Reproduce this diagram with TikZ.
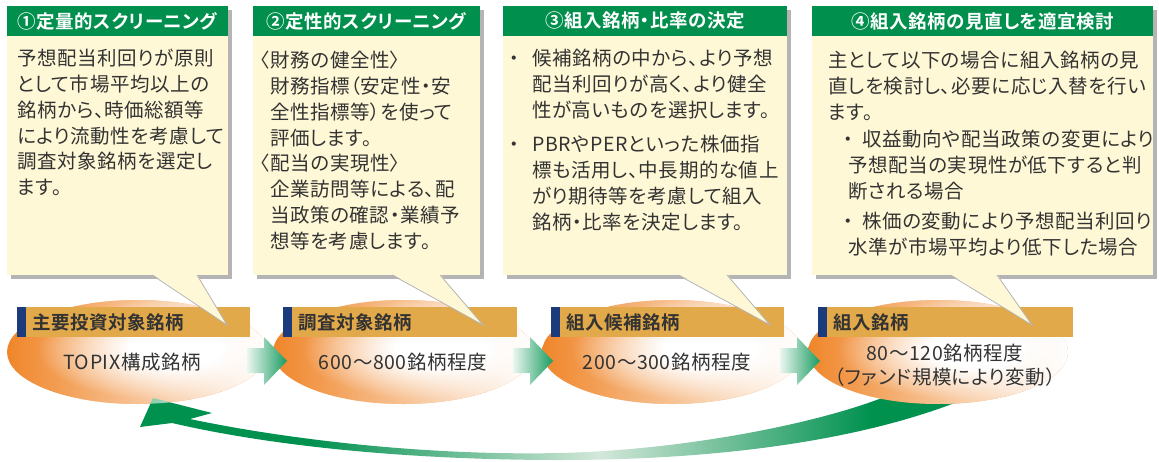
\documentclass[tikz,border=0pt]{standalone}
\usepackage{fontspec}
\setmainfont{Noto Sans CJK JP}[BoldFont={Noto Sans CJK JP Bold},RawFeature=+palt,LetterSpace=3]
\usetikzlibrary{fadings}

\definecolor{hdgreen}{HTML}{008F4C}
\definecolor{memo}{HTML}{FFF8D6}
\definecolor{memoshadow}{HTML}{B4B4B4}
\definecolor{bargold}{HTML}{E1A94A}
\definecolor{barnavy}{HTML}{1C3B7C}
\definecolor{ovorange}{HTML}{F0862A}
\definecolor{arrgreen}{HTML}{00914F}
\definecolor{arrpale}{HTML}{D4E7DA}
\definecolor{txtgray}{HTML}{333333}

% orange oval, white spot shifted right
\pgfdeclareradialshading{ovalglow}{\pgfpoint{9bp}{2bp}}{%
  color(0bp)=(white); color(9bp)=(white); color(24bp)=(ovorange); color(50bp)=(ovorange)}
% green loop arrow, pale in the middle
\pgfdeclarehorizontalshading{loopband}{100bp}{%
  color(0bp)=(arrgreen); color(35bp)=(arrgreen); color(52bp)=(arrpale); color(68bp)=(arrgreen); color(100bp)=(arrgreen)}
\tikzfading[name=faderight, left color=transparent!100, middle color=transparent!100, right color=transparent!0]

\begin{document}
\begin{tikzpicture}[
    x=1pt, y=-1pt,
    % Styles
    headtext/.style={text=white, font=\bfseries\fontsize{18.5}{20}\selectfont, inner sep=0pt},
    memotext/.style={text=txtgray, font=\fontsize{19.5}{25.8}\selectfont, align=left, anchor=north west, inner sep=0pt},
    barlabel/.style={text=txtgray, font=\bfseries\fontsize{18.5}{20}\selectfont, anchor=west, inner sep=0pt},
    ovaltext/.style={text=txtgray, font=\fontsize{19.5}{24}\selectfont, align=center, inner sep=0pt},
    stepgo/.style={left color=arrgreen!8!white, right color=arrgreen!90!white}
]
  \useasboundingbox (0,0) rectangle (1159,461);

  % Oval 1 (under the loop arrow head)
  \shade[shading=ovalglow] (137,352) ellipse (130pt and 52pt);

  % Loop arrow back to the start
  \shade[shading=loopband]
    (905,388) .. controls (840,420) and (690,450) .. (560,453)
    .. controls (420,456) and (280,438) .. (190,419)
    -- (212,413) -- (153,398) -- (140,427) -- (172,423)
    .. controls (280,448) and (420,460) .. (560,460)
    .. controls (720,460) and (880,440) .. (990,388) -- cycle;

  % Ovals 2-4
  \foreach \cx in {403,672,938} {
    \shade[shading=ovalglow] (\cx,352) ellipse (130pt and 52pt);
  }
  \foreach \cx in {137,403,672,938} {
    \fill[white, path fading=faderight] (\cx,352) ellipse (130pt and 52pt);
  }

  % Step arrows between ovals
  \foreach \x in {247,513,780} {
    \shade[stepgo] (\x,348) -- (\x+17,348) -- (\x+17,337) -- (\x+40,361)
      -- (\x+17,385) -- (\x+17,373) -- (\x,373) -- cycle;
  }

  % Stage bars
  \foreach \xl/\xr/\lbl [count=\i] in {17/250/主要投資対象銘柄, 283/517/調査対象銘柄,
                                       551/784/組入候補銘柄, 818/1073/組入銘柄} {
    \fill[bargold] (\xl,307) rectangle (\xr,337);
    \fill[barnavy] (\xl,307) rectangle (\xl+9,337);
    \node[barlabel] (bar\i) at (\xl+15,322) {\lbl};
  }

  % Memo boxes with callout tails
  \foreach \xl/\xr/\ta/\tb/\tip [count=\i] in {7/228/152/197/227, 253/480/392/440/483,
                                              503/787/678/727/770, 812/1153/950/997/1032} {
    \fill[memoshadow] (\xl+4,10) rectangle (\xr+4,279);
    \fill[memo] (\xl,6) rectangle (\xr,275);
    \fill[hdgreen] (\xl,6) rectangle (\xr,36);
    \fill[memo] (\ta,274) -- (\tip,325) -- (\tb,274) -- cycle;
    \draw[memoshadow, line width=0.8pt] (\ta,275) -- (\tip,325) -- (\tb,275);
    \coordinate (head\i) at ({(\xl+\xr)/2},21);
  }

  % Headers
  \node[headtext] (title1) at (head1) {①定量的スクリーニング};
  \node[headtext] (title2) at (head2) {②定性的スクリーニング};
  \node[headtext] (title3) at (head3) {③組入銘柄・比率の決定};
  \node[headtext] (title4) at (head4) {④組入銘柄の見直しを適宜検討};

  % Memo texts
  \node[memotext] (memo1) at (17,49) {予想配当利回りが原則\\として市場平均以上の\\銘柄から、時価総額等\\により流動性を考慮して\\調査対象銘柄を選定し\\ます。};
  \node[memotext] (memo2) at (260,51) {〈財務の健全性〉\\\hspace*{10pt}財務指標（安定性・安\\\hspace*{10pt}全性指標等）を使って\\\hspace*{10pt}評価します。\\〈配当の実現性〉\\\hspace*{10pt}企業訪問等による、配\\\hspace*{10pt}当政策の確認・業績予\\\hspace*{10pt}想等を考慮します。};
  \node[memotext] (memo3) at (509,49) {\makebox[23pt][l]{・}候補銘柄の中から、より予想\\\hspace*{23pt}配当利回りが高く、より健全\\\hspace*{23pt}性が高いものを選択します。\\[9pt]\makebox[23pt][l]{・}PBRやPERといった株価指\\\hspace*{23pt}標も活用し、中長期的な値上\\\hspace*{23pt}がり期待等を考慮して組入\\\hspace*{23pt}銘柄・比率を決定します。};
  \node[memotext] (memo4) at (828,51) {主として以下の場合に組入銘柄の見\\直しを検討し、必要に応じ入替を行い\\ます。\\[2pt]\hspace*{15pt}\makebox[19pt][l]{・}収益動向や配当政策の変更により\\\hspace*{20pt}予想配当の実現性が低下すると判\\\hspace*{20pt}断される場合\\[4pt]\hspace*{15pt}\makebox[19pt][l]{・}株価の変動により予想配当利回り\\\hspace*{20pt}水準が市場平均より低下した場合};

  % Oval texts
  \node[ovaltext] (oval1) at (132,362) {TOPIX構成銘柄};
  \node[ovaltext] (oval2) at (403,362) {600～800銘柄程度};
  \node[ovaltext] (oval3) at (667,362) {200～300銘柄程度};
  \node[ovaltext] (oval4) at (945,365) {80～120銘柄程度\\（ファンド規模により変動）};

\end{tikzpicture}
\end{document}
